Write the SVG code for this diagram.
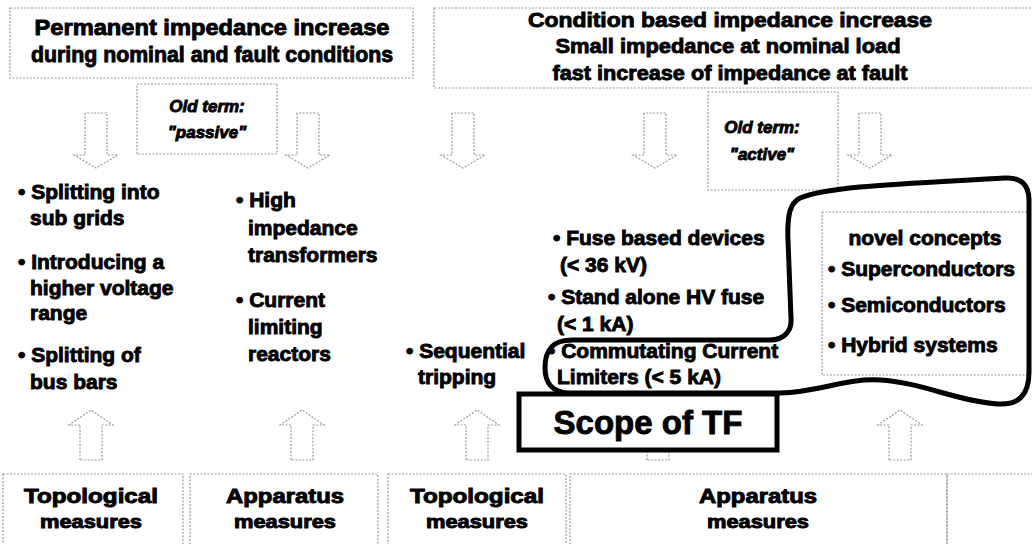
<svg xmlns="http://www.w3.org/2000/svg" width="1032" height="544" viewBox="0 0 1032 544">
<style>
.t{font-family:"Liberation Sans",Arial,sans-serif;font-weight:bold;fill:#000;stroke:#000;stroke-width:0.9}
.c{text-anchor:middle}
.i{font-style:italic}
.box{fill:none;stroke:#9a9a9a;stroke-width:1.2;stroke-dasharray:2 1.5}
.arr{fill:#fff;stroke:#9a9a9a;stroke-width:1.2;stroke-dasharray:2 1.5}
.loop{fill:none;stroke:#000;stroke-width:5;stroke-linejoin:round;stroke-linecap:round}
</style>
<defs>
<polygon id="down" points="-11,0 -11,42 -22,42 0,55 22,42 11,42 11,0"/>
<polygon id="up" points="-11,50 -11,15 -22,15 0,0 22,15 11,15 11,50"/>
</defs>
<rect width="1032" height="544" fill="#fff"/>

<g id="permanent">
<rect class="box" x="10" y="8" width="403" height="70"/>
<text class="t c" x="212" y="35" font-size="22" textLength="355" lengthAdjust="spacingAndGlyphs">Permanent impedance increase</text>
<text class="t c" x="212" y="62" font-size="22" textLength="362" lengthAdjust="spacingAndGlyphs">during nominal and fault conditions</text>
</g>
<g id="passive">
<rect class="box" x="137" y="84" width="140" height="70"/>
<text class="t c i" x="207" y="112" font-size="17">Old term:</text>
<text class="t c i" x="207" y="138" font-size="17">"passive"</text>
</g>
<g id="condition">
<rect class="box" x="434" y="8" width="600" height="80"/>
<text class="t c" x="730" y="27" font-size="21" textLength="404" lengthAdjust="spacingAndGlyphs">Condition based impedance increase</text>
<text class="t c" x="728" y="53" font-size="21" textLength="345" lengthAdjust="spacingAndGlyphs">Small impedance at nominal load</text>
<text class="t c" x="730" y="80" font-size="21" textLength="355" lengthAdjust="spacingAndGlyphs">fast increase of impedance at fault</text>
</g>
<g id="active">
<rect class="box" x="708" y="92" width="130" height="98"/>
<text class="t c i" x="762" y="133" font-size="17">Old term:</text>
<text class="t c i" x="762" y="160" font-size="17">"active"</text>
</g>

<g id="connectors">
<use href="#down" x="96" y="113" class="arr"/>
<use href="#down" x="308" y="113" class="arr"/>
<use href="#down" x="463" y="113" class="arr"/>
<use href="#down" x="655" y="113" class="arr"/>
<use href="#down" x="870" y="113" class="arr"/>
<use href="#up" x="91" y="410" class="arr"/>
<use href="#up" x="302" y="410" class="arr"/>
<use href="#up" x="477" y="410" class="arr"/>
<use href="#up" x="658" y="410" class="arr"/>
<use href="#up" x="900" y="410" class="arr"/>
</g>

<g id="col1">
<text class="t" x="18" y="199" font-size="21">• Splitting into</text>
<text class="t" x="30" y="225" font-size="21">sub grids</text>
<text class="t" x="18" y="269" font-size="21">• Introducing a</text>
<text class="t" x="30" y="295" font-size="21">higher voltage</text>
<text class="t" x="30" y="320" font-size="21">range</text>
<text class="t" x="18" y="362" font-size="21">• Splitting of</text>
<text class="t" x="30" y="389" font-size="21">bus bars</text>
</g>
<g id="col2">
<text class="t" x="236" y="207" font-size="21">• High</text>
<text class="t" x="248" y="235" font-size="21">impedance</text>
<text class="t" x="248" y="262" font-size="21">transformers</text>
<text class="t" x="236" y="307" font-size="21">• Current</text>
<text class="t" x="248" y="334" font-size="21">limiting</text>
<text class="t" x="248" y="361" font-size="21">reactors</text>
</g>
<g id="col3">
<text class="t" x="406" y="358" font-size="21">• Sequential</text>
<text class="t" x="418" y="384" font-size="21">tripping</text>
</g>
<g id="col4">
<text class="t" x="553" y="245" font-size="21">•  Fuse based devices</text>
<text class="t" x="560" y="272" font-size="21">(&lt; 36 kV)</text>
<text class="t" x="548" y="304" font-size="21">• Stand alone HV fuse</text>
<text class="t" x="557" y="331" font-size="21">(&lt; 1 kA)</text>
<text class="t" x="548" y="358" font-size="21">• Commutating Current</text>
<text class="t" x="557" y="384" font-size="21">Limiters (&lt; 5 kA)</text>
</g>
<g id="novel">
<rect class="box" x="822" y="212" width="207" height="163"/>
<text class="t c" x="925" y="245" font-size="21">novel concepts</text>
<text class="t" x="828" y="276" font-size="21">• Superconductors</text>
<text class="t" x="828" y="312" font-size="21">• Semiconductors</text>
<text class="t" x="828" y="352" font-size="21">• Hybrid systems</text>
</g>

<g id="scope-loop">
<path class="loop" d="M 800,198 C 830,186 900,184 1005,178 C 1022,177 1029,186 1029,200 L 1029,372 C 1029,396 1018,405 998,404 C 960,402 920,382 880,380 C 845,378 820,392 780,393 L 570,393 C 552,393 545,382 545,368 C 545,350 552,340 572,340 L 770,340 C 785,340 792,330 791,318 L 788,240 C 787,215 790,203 800,198 Z"/>
</g>
<g id="scope">
<rect x="519" y="394" width="258" height="56" fill="#fff" stroke="#000" stroke-width="5"/>
<text class="t c" x="648" y="434" font-size="33">Scope of TF</text>
</g>

<g id="bottom">
<rect class="box" x="3" y="474" width="180" height="80"/>
<rect class="box" x="190" y="474" width="188" height="80"/>
<rect class="box" x="388" y="474" width="178" height="80"/>
<rect class="box" x="570" y="474" width="377" height="80"/>
<rect class="box" x="947" y="474" width="90" height="80"/>
<text class="t c" x="91" y="503" font-size="20" textLength="134" lengthAdjust="spacingAndGlyphs">Topological</text>
<text class="t c" x="91" y="528" font-size="18" textLength="102" lengthAdjust="spacingAndGlyphs">measures</text>
<text class="t c" x="285" y="503" font-size="20" textLength="118" lengthAdjust="spacingAndGlyphs">Apparatus</text>
<text class="t c" x="285" y="528" font-size="18" textLength="102" lengthAdjust="spacingAndGlyphs">measures</text>
<text class="t c" x="477" y="503" font-size="20" textLength="134" lengthAdjust="spacingAndGlyphs">Topological</text>
<text class="t c" x="477" y="528" font-size="18" textLength="102" lengthAdjust="spacingAndGlyphs">measures</text>
<text class="t c" x="758" y="503" font-size="20" textLength="118" lengthAdjust="spacingAndGlyphs">Apparatus</text>
<text class="t c" x="758" y="528" font-size="18" textLength="102" lengthAdjust="spacingAndGlyphs">measures</text>
</g>
</svg>
